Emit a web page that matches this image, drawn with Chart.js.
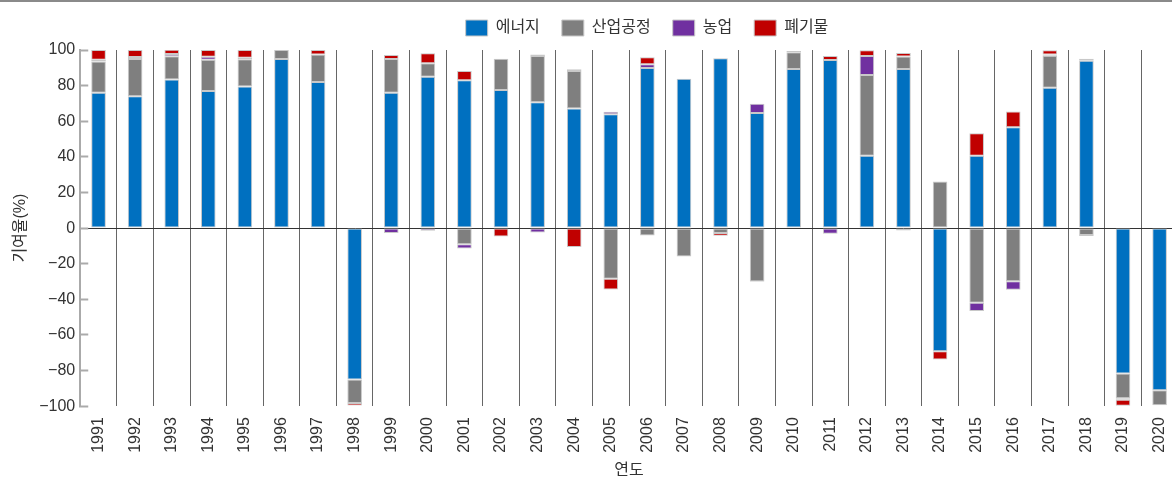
<!DOCTYPE html>
<html lang="ko">
<head>
  <meta charset="UTF-8">
  <title>부문별 기여율</title>
  <style>
    html, body { margin: 0; padding: 0; background: #fff; overflow: hidden; }
    .page { width: 1172px; height: 478px; overflow: hidden; border-top: 2px solid #8a8a8a; box-sizing: border-box; }
    .grafica { width: 1190px; height: 478px; }
  </style>
</head>
<body>
  <div class="page">
    <div class="grafica">
      <canvas id="myChart"></canvas>
    </div>
  </div>

  <script src="https://cdn.jsdelivr.net/npm/chart.js"></script>
  <script>
    // 연도
    const years = ['1991', '1992', '1993', '1994', '1995', '1996', '1997', '1998', '1999', '2000',
      '2001', '2002', '2003', '2004', '2005', '2006', '2007', '2008', '2009', '2010',
      '2011', '2012', '2013', '2014', '2015', '2016', '2017', '2018', '2019', '2020']

    // 부문별 기여율 (%)
    const energy = [76, 74, 83.5, 77, 79.5, 95, 82, -85, 76, 85,
      83, 77.6, 70.6, 67.2, 63.9, 89.9, 83.8, 95.3, 64.6, 89.4,
      94.4, 40.6, 89.4, -69.1, 40.6, 56.6, 78.8, 94, -81.6, -91]
    const industry = [17.5, 21, 13, 17.5, 15.3, 5, 15.5, -13.2, 19, 7.6,
      -9, 17.5, 26, 21, -28.5, -4.1, -16, -2.8, -30, 9.3,
      null, 45.4, 6.9, 26.2, -41.9, -29.8, 18, -3.9, -13.9, -8.5]
    const agriculture = [1, 1, 1.3, 1.7, 0.9, null, null, null, -2.8, -1.5,
      -2.4, null, -2.4, 1, 1.4, 2.1, null, null, 5.2, 0.7,
      -3.2, 10.6, -1.3, null, -4.7, -4.8, 0.7, 1.1, -0.9, null]
    const waste = [5.5, 4, 2.3, 3.8, 4.3, null, 2.5, -1.4, 2.2, 5.6,
      5.2, -4.7, 0.9, -10.6, -6, 3.9, null, -1.5, -0.3, null,
      2.2, 3.2, 2, -4.7, 12.6, 8.8, 2.3, -0.6, -3.3, null]

    const yTicks = { min: -100, max: 100, step: 20 }

    Chart.defaults.font.family = "'Liberation Sans', 'Noto Sans CJK KR', sans-serif"
    Chart.defaults.font.size = 16
    Chart.defaults.color = '#333'

    const serie = (label, data, color) => ({
      label, data,
      backgroundColor: color,
      borderColor: '#c8c8c8',
      borderWidth: 1,
      borderSkipped: false,
      barPercentage: 0.4,
      categoryPercentage: 1
    })

    // el recuadro de leyenda no esta centrado en el lienzo
    const legendShift = {
      id: 'legendShift',
      afterLayout(chart) {
        const lg = chart.legend
        const dx = 647 - (lg.left + lg.right) / 2
        lg.left += dx
        lg.right += dx
        lg.top -= 4
        lg.bottom -= 4
      }
    }

    const config = {
      type: 'bar',
      data: {
        labels: years,
        datasets: [
          serie('에너지', energy, '#0070c0'),
          serie('산업공정', industry, '#7f7f7f'),
          serie('농업', agriculture, '#7030a0'),
          serie('폐기물', waste, '#c00000')
        ]
      },
      options: {
        responsive: true,
        maintainAspectRatio: false,
        animation: false,
        layout: { padding: { left: 0, right: 10, top: 0, bottom: 0 } },
        plugins: {
          legend: {
            position: 'top',
            fullSize: false,
            labels: { boxWidth: 22, boxHeight: 16, padding: 22, color: '#333' }
          },
          tooltip: { enabled: false }
        },
        scales: {
          x: {
            stacked: true,
            grid: { offset: true, color: '#666', lineWidth: 1, drawTicks: false },
            border: { display: false },
            ticks: { minRotation: 90, maxRotation: 90, autoSkip: false, padding: 11 },
            title: { display: true, text: '연도', padding: { top: -3, bottom: 0 } }
          },
          y: {
            stacked: true,
            min: yTicks.min,
            max: yTicks.max,
            z: 1,
            ticks: {
              stepSize: yTicks.step,
              padding: 13,
              callback: v => String(v).replace('-', '\u2212')
            },
            grid: {
              color: c => (c.tick && c.tick.value === 0 ? '#333' : 'rgba(0,0,0,0)'),
              tickColor: '#aaa',
              tickLength: -8,
              tickWidth: 2,
              lineWidth: 1
            },
            border: { color: '#aaa', width: 2 },
            title: { display: true, text: '기여율(%)', padding: { top: 11, bottom: -4 } }
          }
        }
      },
      plugins: [legendShift]
    }

    new Chart(document.getElementById('myChart'), config)
  </script>
</body>
</html>
